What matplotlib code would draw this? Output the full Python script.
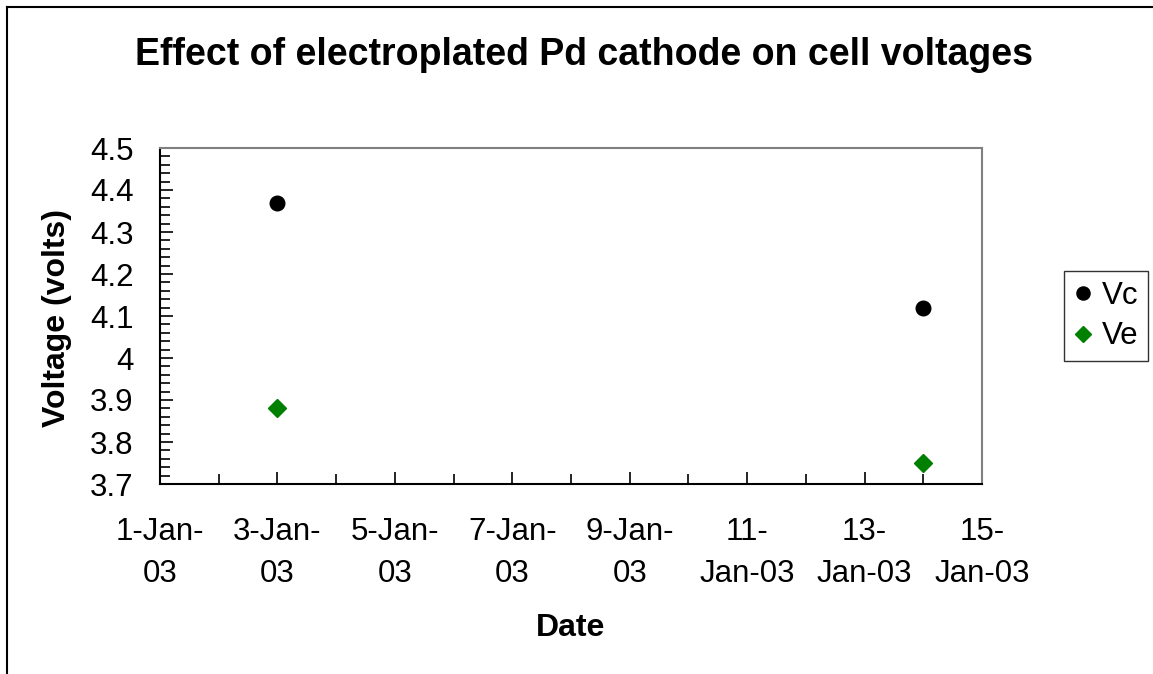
import matplotlib
matplotlib.use("Agg")
import matplotlib.pyplot as plt
import matplotlib.dates as mdates
from matplotlib.lines import Line2D
from matplotlib.ticker import MultipleLocator
import datetime as dt

plt.rcParams['font.family'] = ['Liberation Sans', 'DejaVu Sans']

# data
vc_dates = [dt.date(2003, 1, 3), dt.date(2003, 1, 14)]
vc_values = [4.37, 4.12]
ve_dates = [dt.date(2003, 1, 3), dt.date(2003, 1, 14)]
ve_values = [3.88, 3.75]

tick_dates = [dt.date(2003, 1, d) for d in range(1, 16, 2)]
tick_labels = ['1-Jan-\n03', '3-Jan-\n03', '5-Jan-\n03', '7-Jan-\n03', '9-Jan-\n03',
               '11-\nJan-03', '13-\nJan-03', '15-\nJan-03']

W, H = 1153, 674
fig = plt.figure(figsize=(W / 100, H / 100), dpi=100)

# outer chart frame (top and left visible, rest runs off the image)
fig.add_artist(Line2D([7 / W, 7 / W], [1 - 7 / H, -0.05], transform=fig.transFigure,
                      color='black', lw=1.5))
fig.add_artist(Line2D([7 / W, 1.05], [1 - 7 / H, 1 - 7 / H], transform=fig.transFigure,
                      color='black', lw=1.5))

ax = fig.add_axes([160 / W, 1 - 484 / H, (982 - 160) / W, (484 - 148) / H])

ax.plot(vc_dates, vc_values, 'o', color='black', markersize=10.5, label='Vc', clip_on=False)
ax.plot(ve_dates, ve_values, 'D', color='#008000', markersize=9, label='Ve', clip_on=False)

ax.set_xlim(dt.date(2003, 1, 1), dt.date(2003, 1, 15))
ax.set_ylim(3.7, 4.5)
ax.set_xticks(mdates.date2num(tick_dates))
ax.set_xticklabels(tick_labels)
ax.xaxis.set_minor_locator(mdates.DayLocator())
ax.yaxis.set_major_locator(MultipleLocator(0.1))
ax.yaxis.set_minor_locator(MultipleLocator(0.02))
ax.yaxis.set_major_formatter(lambda v, p: f'{v:g}')

ax.tick_params(which='both', direction='in', color='black', width=1.2)
ax.tick_params(which='major', length=9, labelsize=22.5)
ax.tick_params(which='minor', length=7)
ax.tick_params(axis='x', which='major', pad=24)
ax.tick_params(axis='y', which='major', pad=19)
for lbl in ax.get_xticklabels():
    lbl.set_linespacing(1.52)
    lbl.set_horizontalalignment('center')

for side in ['top', 'right']:
    ax.spines[side].set_color('#808080')
    ax.spines[side].set_linewidth(1.5)
for side in ['left', 'bottom']:
    ax.spines[side].set_color('black')
    ax.spines[side].set_linewidth(1.5)

fig.text(584 / W, 1 - 55 / H, 'Effect of electroplated Pd cathode on cell voltages',
         ha='center', va='center', fontsize=27, fontweight='bold')
fig.text(57 / W, 1 - 318 / H, 'Voltage (volts)', ha='center', va='center',
         rotation=90, fontsize=23, fontweight='bold')
fig.text(571 / W, 1 - 628 / H, 'Date', ha='center', va='center',
         fontsize=23, fontweight='bold')

leg = fig.legend(loc='center', bbox_to_anchor=(1106 / W, 1 - 316 / H), fontsize=22.5,
                 frameon=True, fancybox=False, edgecolor='black', handlelength=0.6,
                 handletextpad=0.3, borderpad=0.3, labelspacing=0.35, markerscale=0.9)
leg.get_frame().set_linewidth(1.0)

fig.savefig('out.png', dpi=100)
